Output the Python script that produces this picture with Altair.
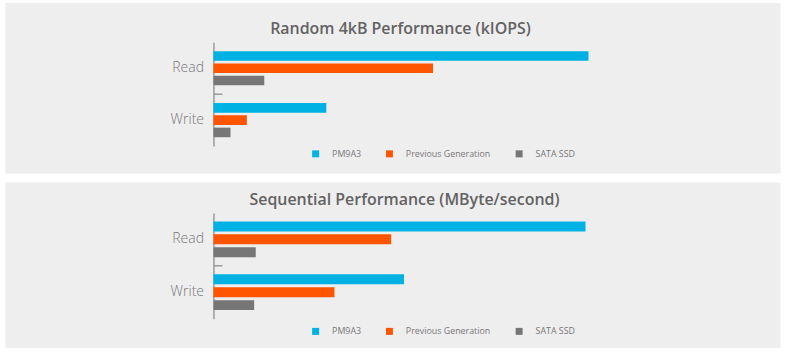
import altair as alt
import pandas as pd

categories = ["Read", "Write"]
series = ["PM9A3", "Previous Generation", "SATA SSD"]
colors = ["#00b2e3", "#ff5500", "#767676"]

random_title = "Random 4kB Performance (kIOPS)"
random_read = [1100, 644, 149]
random_write = [331, 98, 50]

seq_title = "Sequential Performance (MByte/second)"
seq_read = [6950, 3320, 790]
seq_write = [3560, 2260, 760]

FONT = "Open Sans"
PANEL_W = 777
AXIS_X = 209


def panel(title, read, write, height, x_end, y_range, pad_inner, pad_outer,
          legend_y, title_offset, title_dx):
    rows = []
    for cat, vals in zip(categories, [read, write]):
        for s, v in zip(series, vals):
            rows.append({"category": cat, "series": s, "value": v})
    df = pd.DataFrame(rows)

    y_scale = alt.Scale(domain=categories, range=y_range, paddingInner=0, paddingOuter=0)

    bars = alt.Chart(df).mark_bar().encode(
        x=alt.X("value:Q",
                scale=alt.Scale(domain=[0, max(read + write)], range=[AXIS_X, x_end],
                                nice=False, zero=True),
                axis=None),
        y=alt.Y("category:N", scale=y_scale, sort=categories,
                axis=alt.Axis(title=None, offset=-AXIS_X, domain=True,
                              domainColor="#9a9a9a", domainWidth=1.5, ticks=False,
                              labelPadding=10, labelFont=FONT, labelFontSize=14,
                              labelColor="#777777", labelFontWeight=300)),
        yOffset=alt.YOffset("series:N", sort=series,
                            scale=alt.Scale(domain=series, paddingInner=pad_inner,
                                            paddingOuter=pad_outer)),
        color=alt.Color("series:N",
                        scale=alt.Scale(domain=series, range=colors),
                        legend=alt.Legend(title=None, orient="none", legendX=307,
                                          legendY=legend_y, direction="horizontal",
                                          symbolType="square", symbolSize=49,
                                          symbolStrokeWidth=0, labelFont=FONT,
                                          labelFontSize=8.9, labelColor="#777777",
                                          labelOffset=12, columnPadding=24, padding=0)),
    )

    tick = alt.Chart(pd.DataFrame({"category": ["Read"]})).mark_rule(
        color="#9a9a9a", strokeWidth=1.5
    ).encode(
        y=alt.Y("category:N", bandPosition=1, scale=y_scale, sort=categories),
        x=alt.value(AXIS_X),
        x2=alt.value(AXIS_X + 9),
    )

    return alt.layer(bars, tick).properties(
        width=PANEL_W,
        height=height,
        title=alt.TitleParams(title, offset=title_offset, dx=title_dx, font=FONT,
                              fontSize=16, fontWeight=600, color="#626262",
                              anchor="middle", baseline="alphabetic"),
    )


top = panel(random_title, random_read, random_write, 171, 585, [40, 144],
            0.22, 0.72, 147, -48, 8)
bottom = panel(seq_title, seq_read, seq_write, 166, 582, [31, 137],
               0.23, 0.66, 145, -39, 12)

chart = alt.vconcat(top, bottom, spacing=7).resolve_scale(
    color="independent", x="independent", y="independent", yOffset="independent"
).resolve_legend(color="independent").properties(
    padding={"left": 4, "top": 1, "right": 6, "bottom": 9},
    background="white",
).configure_view(fill="#efeeef", stroke="transparent")

chart.save("out.html", embed_options={"renderer": "svg", "actions": False})
